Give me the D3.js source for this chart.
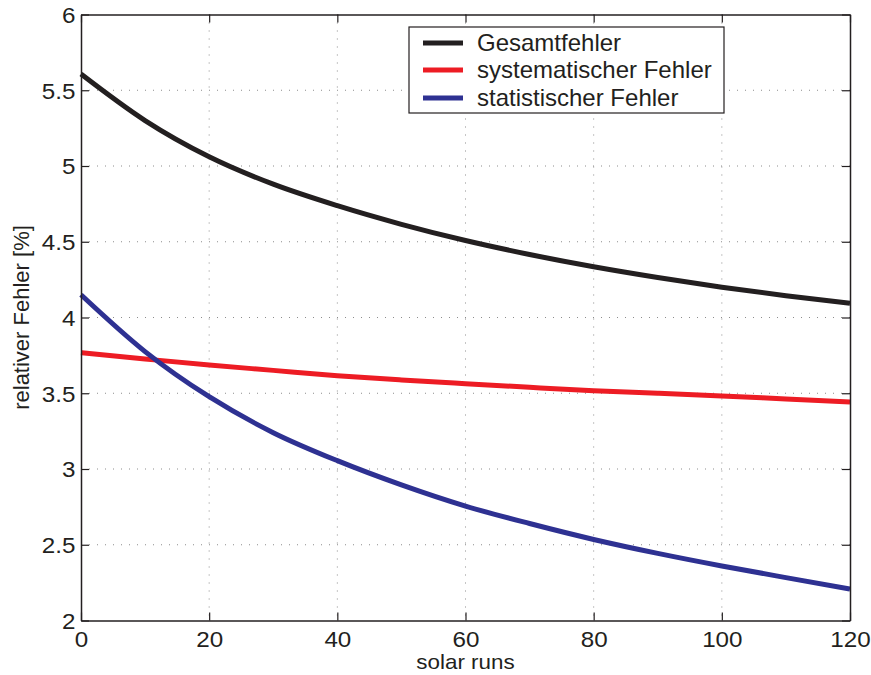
<!DOCTYPE html>
<html><head><meta charset="utf-8">
<script src="https://cdn.jsdelivr.net/npm/d3@7"></script>
<style>body{margin:0;background:#fff;} svg{display:block;}</style>
</head><body>
<svg id="chart" width="871" height="675"></svg>
<script>
const runs = [0,10,20,30,40,50,60,70,80,90,100,110,120];
const gesamt = [5.607,5.30,5.061,4.88,4.738,4.615,4.508,4.416,4.335,4.264,4.200,4.144,4.094];
const systematisch = [3.768,3.726,3.686,3.651,3.616,3.588,3.563,3.539,3.517,3.50,3.482,3.462,3.442];
const statistisch = [4.15,3.775,3.477,3.24,3.055,2.895,2.755,2.64,2.535,2.443,2.36,2.283,2.208];
const xTicks = [0,20,40,60,80,100,120];
const yTicks = [2,2.5,3,3.5,4,4.5,5,5.5,6];
const seriesNames = ["Gesamtfehler","systematischer Fehler","statistischer Fehler"];
const seriesColors = ["#231f20","#ed1c24","#2e3192"];

const svg = d3.select("#chart");
const L=81, R=850, T=14.5, B=620.5;
const x = d3.scaleLinear().domain([0,120]).range([L,R]);
const y = d3.scaleLinear().domain([2,6]).range([B,T]);
const font = "'Liberation Sans', Arial, Helvetica, sans-serif";

// grid
const g = svg.append("g");
g.selectAll(".vg").data(xTicks.slice(1,-1)).join("line")
  .attr("x1",d=>x(d)).attr("x2",d=>x(d)).attr("y1",T).attr("y2",B)
  .attr("stroke","#8c8c8c").attr("stroke-width",1).attr("stroke-dasharray","1,7");
g.selectAll(".hg").data(yTicks.slice(1,-1)).join("line")
  .attr("x1",L).attr("x2",R).attr("y1",d=>y(d)).attr("y2",d=>y(d))
  .attr("stroke","#8c8c8c").attr("stroke-width",1).attr("stroke-dasharray","1,7");

// lines
const data = [gesamt, systematisch, statistisch];
const line = d3.line().x((d,i)=>x(runs[i])).y(d=>y(d)).curve(d3.curveMonotoneX);
svg.append("g").selectAll("path").data(data).join("path")
  .attr("d",line).attr("fill","none")
  .attr("stroke",(d,i)=>seriesColors[i]).attr("stroke-width",5)
  .attr("stroke-linecap","butt");

// axes (ticks inward)
const tickLen = 8;
const axB = svg.append("g").attr("transform",`translate(0,${B})`)
  .call(d3.axisBottom(x).tickValues(xTicks).tickSizeInner(-tickLen).tickSizeOuter(0));
const axT = svg.append("g").attr("transform",`translate(0,${T})`)
  .call(d3.axisTop(x).tickValues(xTicks).tickSizeInner(-tickLen).tickSizeOuter(0).tickFormat(""));
const axL = svg.append("g").attr("transform",`translate(${L},0)`)
  .call(d3.axisLeft(y).tickValues(yTicks).tickSizeInner(-tickLen).tickSizeOuter(0).tickFormat(d3.format("~g")));
const axR = svg.append("g").attr("transform",`translate(${R},0)`)
  .call(d3.axisRight(y).tickValues(yTicks).tickSizeInner(-tickLen).tickSizeOuter(0).tickFormat(""));
[axB,axT,axL,axR].forEach(a=>{
  a.selectAll("path.domain").attr("stroke","#231f20").attr("stroke-width",1.5);
  a.selectAll(".tick line").attr("stroke","#231f20").attr("stroke-width",1.2);
  a.selectAll("text").attr("fill","#231f20").style("font-family",font).style("font-size","22px");
});
axB.selectAll("text").attr("y",27).attr("dy",0).attr("transform","scale(1.1,1)");
axL.selectAll("text").attr("x",-5).attr("dy","0.36em").attr("transform","scale(1.1,1)");

// axis labels
svg.append("text").attr("transform",`translate(${(L+R)/2},669) scale(1.12,1)`).attr("text-anchor","middle")
  .style("font-family",font).style("font-size","20px").attr("fill","#231f20").text("solar runs");
svg.append("text").attr("transform",`translate(29,${(T+B)/2}) rotate(-90)`).attr("text-anchor","middle")
  .style("font-family",font).style("font-size","22px").attr("fill","#231f20").text("relativer Fehler [%]");

// legend
const lg = svg.append("g");
lg.append("rect").attr("x",409).attr("y",27).attr("width",315).attr("height",86)
  .attr("fill","#fff").attr("stroke","#231f20").attr("stroke-width",1.2);
const rowY = [43,70,98];
seriesNames.forEach((n,i)=>{
  lg.append("line").attr("x1",423).attr("x2",463).attr("y1",rowY[i]).attr("y2",rowY[i])
    .attr("stroke",seriesColors[i]).attr("stroke-width",5);
  lg.append("text").attr("x",477).attr("y",rowY[i]).attr("dy","0.35em")
    .style("font-family",font).style("font-size","24px").attr("fill","#231f20").text(n);
});
</script>
</body></html>
